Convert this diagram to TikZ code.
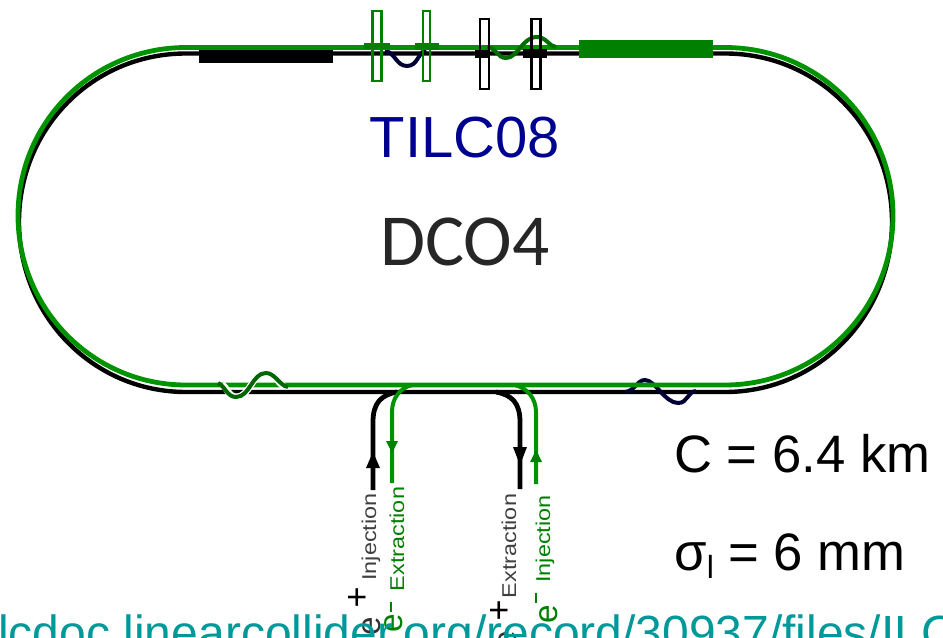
\documentclass[tikz,border=0pt]{standalone}
\usepackage{fontspec}
\setmainfont{Liberation Sans}
\newfontfamily\calib{Carlito}
\usetikzlibrary{arrows.meta}
\definecolor{ringgreen}{RGB}{0,128,0}
\definecolor{navy}{RGB}{0,0,145}
\definecolor{urlteal}{RGB}{0,153,153}
\tikzset{
  x=0.75pt,y=-0.75pt,
  blk/.style={draw=black,line width=3.3pt},
  grn/.style={draw=ringgreen!85!green,line width=3.6pt},
  wig/.style={line width=3pt},
  feedb/.style={draw=black,line width=3.6pt},
  feedg/.style={draw=ringgreen!85!green,line width=3pt},
  kick/.style={line width=1.6pt,fill=none},
  rot/.style={rotate=90,font=\fontsize{15}{16}\selectfont,inner sep=0pt},
  big/.style={font=\fontsize{39.5}{42}\selectfont,inner sep=0pt,anchor=base west},
  charge/.style={inner sep=0pt,font=\fontsize{27}{28}\selectfont},
  ele/.style={rot,font=\fontsize{25}{26}\selectfont},
}
\begin{document}
\begin{tikzpicture}
\useasboundingbox (0,0) rectangle (943,638);
\clip (0,0) rectangle (943,638);
% black ring
\draw[blk] (186,53.5) -- (725,53.5)
  .. controls (818,53.5) and (892,128) .. (892,222)
  .. controls (892,316) and (818,392) .. (725,392)
  -- (186,392)
  .. controls (93,392) and (19,316) .. (19,222)
  .. controls (19,128) and (93,53.5) .. (186,53.5) -- cycle;
% feed line points
\coordinate (bi0) at (373,490); \coordinate (bi1) at (373,422); \coordinate (bi2) at (397,392);
\coordinate (be0) at (520,489); \coordinate (be1) at (520,422); \coordinate (be2) at (496,392);
\coordinate (gi0) at (392,483); \coordinate (gi1) at (392,412); \coordinate (gi2) at (412,385);
\coordinate (ge0) at (536,484); \coordinate (ge1) at (536,412); \coordinate (ge2) at (515,385);
\draw[feedb] (bi0) -- (bi1) .. controls (373,403) and (381,395) .. (bi2);
\draw[feedb] (be0) -- (be1) .. controls (520,403) and (512,395) .. (be2);
\fill (373,452) -- (380,468) -- (366,468) -- cycle;
\fill (520,465) -- (513,447) -- (527,447) -- cycle;
% black bumps
\draw[wig,draw=black!80!blue] (385,51) .. controls (395,52) and (396,66) .. (407,66) .. controls (418,66) and (418,52) .. (426,50);
\draw[wig,draw=black!80!blue] (625,392) .. controls (635,391) and (637,380) .. (645,380) .. controls (655,380) and (665,403) .. (678,403) .. controls (688,403) and (687,392) .. (696,391);
% green ring
\draw[grn] (186,47.5) -- (725,47.5)
  .. controls (818,47.5) and (893,122) .. (893,215.5)
  .. controls (893,309) and (818,385) .. (725,385)
  -- (186,385)
  .. controls (93,385) and (18,309) .. (18,215.5)
  .. controls (18,122) and (93,47.5) .. (186,47.5) -- cycle;
\draw[feedg] (gi0) -- (gi1) .. controls (392,398) and (400,388) .. (gi2);
\draw[feedg] (ge0) -- (ge1) .. controls (536,398) and (527,388) .. (ge2);
\fill[ringgreen] (392,453) -- (386,441) -- (398,441) -- cycle;
\fill[ringgreen] (536,450) -- (530,462) -- (542,462) -- cycle;
% blocks
\fill[black] (199,50) rectangle (333,63.5);
\fill[ringgreen] (579,40) rectangle (713,58);
\fill[ringgreen] (364,43) rectangle (390,49);
\fill[ringgreen] (415,43) rectangle (439,50);
\fill[black] (475,50) rectangle (490,58);
\fill[black] (523,49) rectangle (547,58);
% green bumps
\draw[draw=white,line width=5pt] (222,384) .. controls (227,388) and (229,397) .. (236,397) .. controls (250,397) and (252,373) .. (266,373) .. controls (275,373) and (278,384) .. (284,386);
\draw[wig,draw=ringgreen!80!black] (218,383) .. controls (225,386) and (227,397) .. (236,397) .. controls (250,397) and (252,373) .. (266,373) .. controls (275,373) and (280,386) .. (288,387);
\draw[wig,draw=ringgreen!85!black] (487,47) .. controls (497,48) and (497,58) .. (506,58) .. controls (518,58) and (522,37) .. (537,37) .. controls (546,37) and (550,47) .. (556,47);
% kickers
\draw[kick,draw=ringgreen] (372.5,11) rectangle (381.5,81);
\draw[kick,draw=ringgreen] (423,11) rectangle (430,81);
\draw[kick,draw=black] (480,19) rectangle (489,89);
\draw[kick,draw=black] (531.5,19) rectangle (540.5,89);
% text
\node[inner sep=0pt,text=navy,font=\fontsize{43.5}{46}\selectfont] (tilc) at (465,138) {TILC08};
\node[inner sep=0pt,text=black!85,font=\calib\fontsize{55}{58}\selectfont] (dco) at (465,242) {DCO4};
\node[big] (circ) at (674,472) {C = 6.4 km};
\node[big] (sig) at (674,570) {σ\raisebox{-6pt}{\fontsize{24}{26}\selectfont l} = 6 mm};
\node[rot,text=black!75] (l1) at (371,537) {\scalebox{1.17}[1]{Injection}};
\node[rot,text=ringgreen] (l2) at (397,539) {\scalebox{1.17}[1]{Extraction}};
\node[rot,text=black!75] (l3) at (509,546) {\scalebox{1.17}[1]{Extraction}};
\node[rot,text=ringgreen] (l4) at (545,539) {\scalebox{1.17}[1]{Injection}};
\node[charge] (p1) at (357,599) {+};
\node[charge] (p2) at (499,612) {+};
\node[ele,text=black!80] (e1) at (372,626) {e};
\node[ele,text=black!80] (e2) at (508,640) {e};
\draw[ringgreen,line width=1pt] (391,602) -- (391,612);
\draw[ringgreen,line width=1pt] (536,593) -- (536,603);
\node[ele,text=ringgreen] (e3) at (394,623) {e};
\node[ele,text=ringgreen] (e4) at (549,614) {e};
\node[inner sep=0pt,anchor=base west,text=urlteal,font=\fontsize{36}{38}\selectfont] (url) at (-2,649) {lcdoc.linearcollider.org/record/30937/files/ILC};
\end{tikzpicture}
\end{document}
